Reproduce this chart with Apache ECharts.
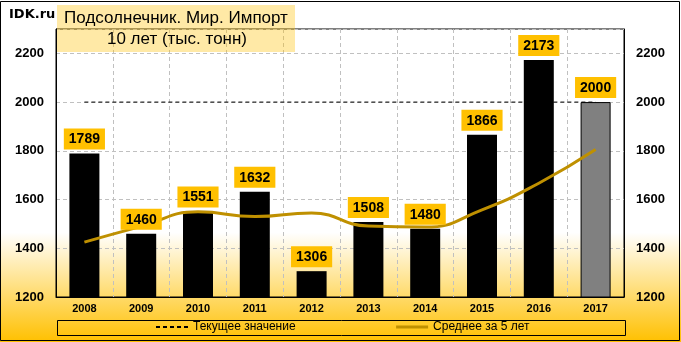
<!DOCTYPE html>
<html><head><meta charset="utf-8">
<script src="https://cdn.jsdelivr.net/npm/echarts@6/dist/echarts.min.js"></script>
<style>html,body{margin:0;padding:0;background:#fff}#c{width:681px;height:342px}</style>
</head><body><div id="c"></div>
<script>
var years = ['2008','2009','2010','2011','2012','2013','2014','2015','2016','2017'];
var imports = [1789,1460,1551,1632,1306,1508,1480,1866,2173,2000];
var currentValue = [2000,2000,2000,2000,2000,2000,2000,2000,2000,2000];
var avg5 = [1425,1490,1550,1530,1545,1491,1487,1558,1667,1805];
var yTicks = {min:1200, max:2300, interval:200};
var titleLines = ['Подсолнечник. Мир. Импорт', '10 лет (тыс. тонн)'];
var legendNames = ['Текущее значение', 'Среднее за 5 лет'];

var chart = echarts.init(document.getElementById('c'), null, {renderer:'canvas'});
var barData = imports.map(function(v,i){
  return i === imports.length-1 ? {value:v, itemStyle:{color:'#808080', borderColor:'#000', borderWidth:1}} : v;
});
var axisFont = {fontFamily:'Liberation Sans', fontWeight:'bold', fontSize:13, color:'#000',
  formatter:function(v){return String(v);}};
chart.setOption({
  animation:false,
  textStyle:{fontFamily:'Liberation Sans'},
  graphic:[
    {type:'rect', z:-100, silent:true, shape:{x:0,y:0,width:681,height:342},
     style:{fill:new echarts.graphic.LinearGradient(0,0,0,1,[{offset:0,color:'#ffffff'},{offset:0.68,color:'#ffffff'},{offset:1,color:'#ffc000'}])}},
    {type:'rect', z:100, silent:true, shape:{x:0.5,y:1.5,width:679,height:339}, style:{fill:null, stroke:'#000', lineWidth:1}},
    {type:'rect', z:100, silent:true, shape:{x:57,y:5,width:238,height:47}, style:{fill:'rgba(255,192,0,0.35)'}},
    {type:'text', z:101, silent:true, x:176, y:18, style:{text:titleLines[0], fill:'#000', font:'17px "Liberation Sans"', align:'center', verticalAlign:'middle'}},
    {type:'text', z:101, silent:true, x:177, y:39, style:{text:titleLines[1], fill:'#000', font:'17px "Liberation Sans"', align:'center', verticalAlign:'middle'}},
    {type:'text', z:101, silent:true, x:9, y:15, style:{text:'IDK.ru', fill:'#000', font:'bold 13px "DejaVu Sans"', align:'left', verticalAlign:'middle'}},
    {type:'rect', z:100, silent:true, shape:{x:57.5,y:320.5,width:568,height:15}, style:{fill:null, stroke:'#000', lineWidth:1}}
  ],
  legend:{
    data:[{name:legendNames[0]}, {name:legendNames[1], lineStyle:{width:3}}],
    left:155, top:321, itemGap:99, itemWidth:32, itemHeight:10,
    itemStyle:{opacity:0},
    textStyle:{fontFamily:'Liberation Sans', fontSize:12, color:'#000'}, padding:0
  },
  grid:{left:56, right:57, top:29, bottom:45, show:true, borderColor:'#000', borderWidth:1, backgroundColor:'transparent'},
  xAxis:{
    type:'category', data:years,
    axisLine:{lineStyle:{color:'#000'}}, axisTick:{show:false},
    axisLabel:{fontFamily:'Liberation Sans', fontWeight:'bold', fontSize:11, color:'#000', margin:6},
    splitLine:{show:true, lineStyle:{color:'#c0c0c0', type:[4,3]}}
  },
  yAxis:[
    {type:'value', min:yTicks.min, max:yTicks.max, interval:yTicks.interval,
     axisLine:{show:true, lineStyle:{color:'#000'}}, axisTick:{show:false},
     axisLabel:Object.assign({margin:12, showMaxLabel:false}, axisFont),
     splitLine:{show:true, lineStyle:{color:'#c0c0c0', type:[4,3]}}},
    {type:'value', min:yTicks.min, max:yTicks.max, interval:yTicks.interval, position:'right',
     axisLine:{show:true, lineStyle:{color:'#000'}}, axisTick:{show:false},
     axisLabel:Object.assign({margin:12, showMaxLabel:false}, axisFont),
     splitLine:{show:false}}
  ],
  series:[
    {name:legendNames[0], type:'line', data:currentValue, symbol:'none', z:1,
     lineStyle:{color:'#000', width:1, type:[4,3]}, itemStyle:{color:'#000'}},
    {name:'Импорт', type:'bar', data:barData, barWidth:30, z:2,
     itemStyle:{color:'#000'}},
    {name:legendNames[1], type:'line', data:avg5, symbol:'none', smooth:0.5, z:3,
     lineStyle:{color:'#bf9000', width:3}, itemStyle:{color:'#bf9000'}},
    {name:'labels', type:'bar', data:imports, barWidth:30, barGap:'-100%', z:4, silent:true,
     itemStyle:{color:'rgba(0,0,0,0)'},
     label:{show:true, position:'top', distance:4, backgroundColor:'#ffc000', padding:[4,5,3,5],
       fontFamily:'Liberation Sans', fontWeight:'bold', fontSize:14, color:'#000'}}
  ]
});
</script></body></html>
